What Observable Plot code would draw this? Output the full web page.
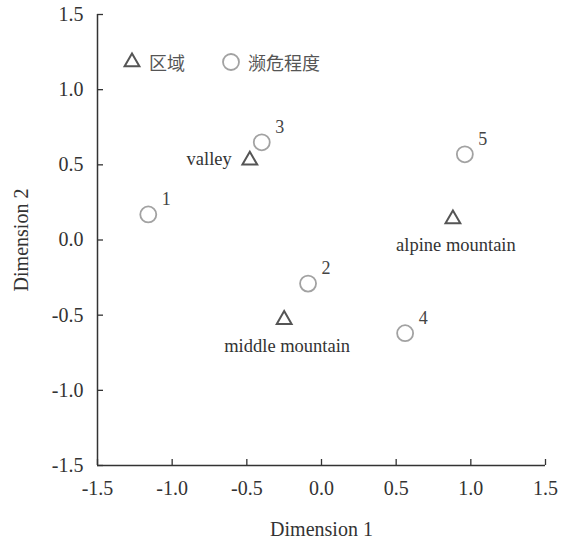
<!DOCTYPE html>
<html>
<head>
<meta charset="utf-8">
<script src="https://cdn.jsdelivr.net/npm/d3@7"></script>
<script src="https://cdn.jsdelivr.net/npm/@observablehq/plot@0.6"></script>
<style>
  html, body { margin: 0; padding: 0; background: #fff; }
  #wrap { position: relative; width: 571px; height: 538px; }
  #legend { position: absolute; left: 0; top: 0; font-family: "Noto Sans CJK SC", sans-serif; font-size: 18px; color: #555; }
  .item { position: absolute; display: flex; align-items: center; white-space: nowrap; }
  .item svg { margin-right: 7px; }
</style>
</head>
<body>
<div id="wrap"><div id="legend"></div></div>
<script>
// ---- data ----
const regionNames = ["valley", "middle mountain", "alpine mountain"];
const regionX = [-0.48, -0.25, 0.88];
const regionY = [0.53, -0.53, 0.14];

const levelNames = ["1", "2", "3", "4", "5"];
const levelX = [-1.16, -0.09, -0.40, 0.56, 0.96];
const levelY = [0.17, -0.29, 0.65, -0.62, 0.57];

const xTicks = [-1.5, -1.0, -0.5, 0.0, 0.5, 1.0, 1.5];
const yTicks = [-1.5, -1.0, -0.5, 0.0, 0.5, 1.0, 1.5];

const legendLabels = ["区域", "濒危程度"];
const xLabel = "Dimension 1";
const yLabel = "Dimension 2";

// ---- tables ----
const regions = regionNames.map((name, i) => ({name, x: regionX[i], y: regionY[i]}));
const levels = levelNames.map((name, i) => ({name, x: levelX[i], y: levelY[i]}));

const axisColor = "#333";
const triColor = "#555";
const circColor = "#a2a2a2";
const fmt = d => d.toFixed(1);

const chart = Plot.plot({
  width: 571,
  height: 538,
  marginLeft: 97,
  marginRight: 26,
  marginTop: 14,
  marginBottom: 73,
  style: {fontFamily: "'Liberation Serif', 'Times New Roman', serif", fontSize: "20px", color: axisColor, background: "#fff"},
  x: {domain: [-1.5, 1.5]},
  y: {domain: [-1.5, 1.5]},
  marks: [
    Plot.ruleX([-1.5], {stroke: axisColor, strokeWidth: 1.5}),
    Plot.ruleY([-1.5], {stroke: axisColor, strokeWidth: 1.5}),
    Plot.axisX(xTicks, {tickSize: -6, tickPadding: 21, tickFormat: fmt, stroke: axisColor, fill: axisColor, strokeWidth: 1.3,
      label: xLabel, labelAnchor: "center", labelArrow: "none", labelOffset: 70}),
    Plot.axisY(yTicks, {tickSize: -6, tickPadding: 20, tickFormat: fmt, stroke: axisColor, fill: axisColor, strokeWidth: 1.3,
      label: yLabel, labelAnchor: "center", labelArrow: "none", labelOffset: 84}),
    Plot.dot(levels, {x: "x", y: "y", r: 8, symbol: "circle", stroke: circColor, strokeWidth: 1.8, fill: "none"}),
    Plot.dot(regions, {x: "x", y: "y", r: 5.5, symbol: "triangle", stroke: triColor, strokeWidth: 2, fill: "none"}),
    Plot.text(levels, {x: "x", y: "y", text: "name", dx: 18, dy: -15, fill: "#444", fontSize: 18}),
    Plot.text(regions.filter(d => d.name === "valley"), {x: "x", y: "y", text: "name", dx: -18, dy: -1, textAnchor: "end", fill: "#333", fontSize: 18.5}),
    Plot.text(regions.filter(d => d.name !== "valley"), {x: "x", y: "y", text: "name", dx: 3, dy: 26, fill: "#333", fontSize: 18.5})
  ]
});
document.getElementById("wrap").prepend(chart);

// legend (HTML overlay)
const legend = document.getElementById("legend");
const legendItems = [
  {label: legendLabels[0], symbol: d3.symbolTriangle, stroke: triColor, sw: 2, r: 5.5, left: 122, top: 49},
  {label: legendLabels[1], symbol: d3.symbolCircle, stroke: circColor, sw: 1.8, r: 8, left: 221, top: 49}
];
for (const it of legendItems) {
  const div = document.createElement("div");
  div.className = "item";
  div.style.left = it.left + "px";
  div.style.top = it.top + "px";
  const svg = d3.create("svg").attr("width", 20).attr("height", 24);
  svg.append("path")
    .attr("d", d3.symbol(it.symbol, it.r * it.r * Math.PI)())
    .attr("transform", "translate(10,12)")
    .attr("fill", "none").attr("stroke", it.stroke).attr("stroke-width", it.sw);
  div.appendChild(svg.node());
  const span = document.createElement("span");
  span.textContent = it.label;
  div.appendChild(span);
  legend.appendChild(div);
}
</script>
</body>
</html>
